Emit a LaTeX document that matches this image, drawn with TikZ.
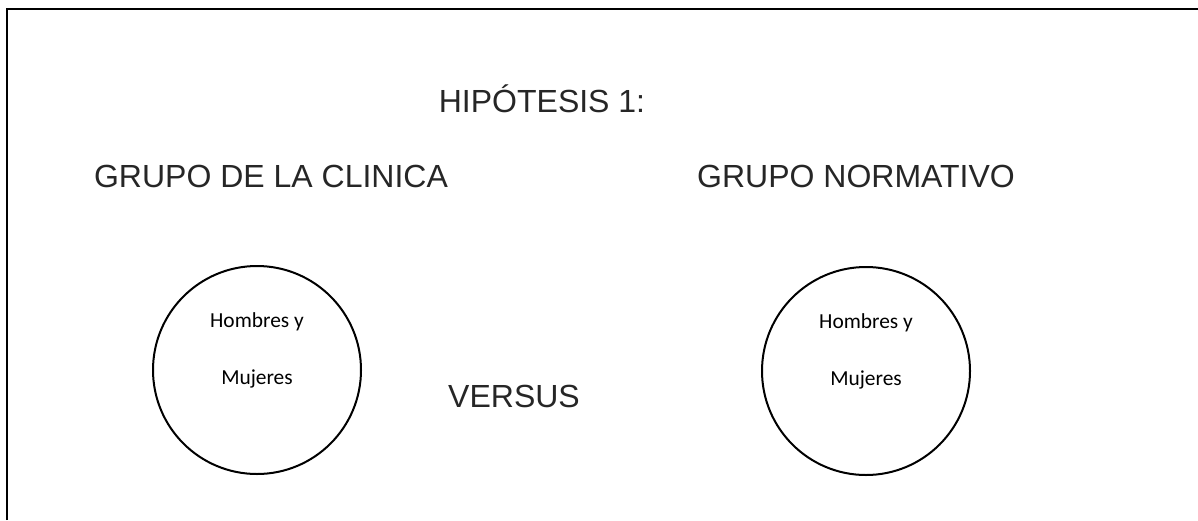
\documentclass[tikz,border=0pt]{standalone}
\usepackage{fontspec}
\setmainfont{Liberation Sans}
\newfontfamily\calibri{Carlito}
\definecolor{textgray}{HTML}{262626}
\tikzset{
  title/.style={text=textgray,font=\fontsize{16}{19}\selectfont,anchor=base,inner sep=0pt},
  group/.style={draw,circle,line width=1pt,minimum size=104pt,inner sep=0pt},
  small/.style={font=\calibri\fontsize{10.7}{12}\selectfont,anchor=base,inner sep=0pt}
}
\begin{document}
\begin{tikzpicture}[x=0.5pt,y=-0.5pt]
\useasboundingbox (0,0) rectangle (1198,520);
\draw[line width=1pt] (7,520)--(7,9)--(1198,9);

\node[title] (hip) at (542,112) {HIPÓTESIS 1:};
\node[title] (clin) at (271,187) {GRUPO DE LA CLINICA};
\node[title] (norm) at (856,187) {GRUPO NORMATIVO};
\node[title] (vs) at (514,407) {VERSUS};

\node[group] (c1) at (257,370) {};
\node[group] (c2) at (866,371) {};

\foreach \c in {c1,c2}
{
    \node[small] at ([yshift=21.5pt]\c) {Hombres y};
    \node[small] at ([yshift=-7pt]\c) {Mujeres};
}
\end{tikzpicture}
\end{document}
